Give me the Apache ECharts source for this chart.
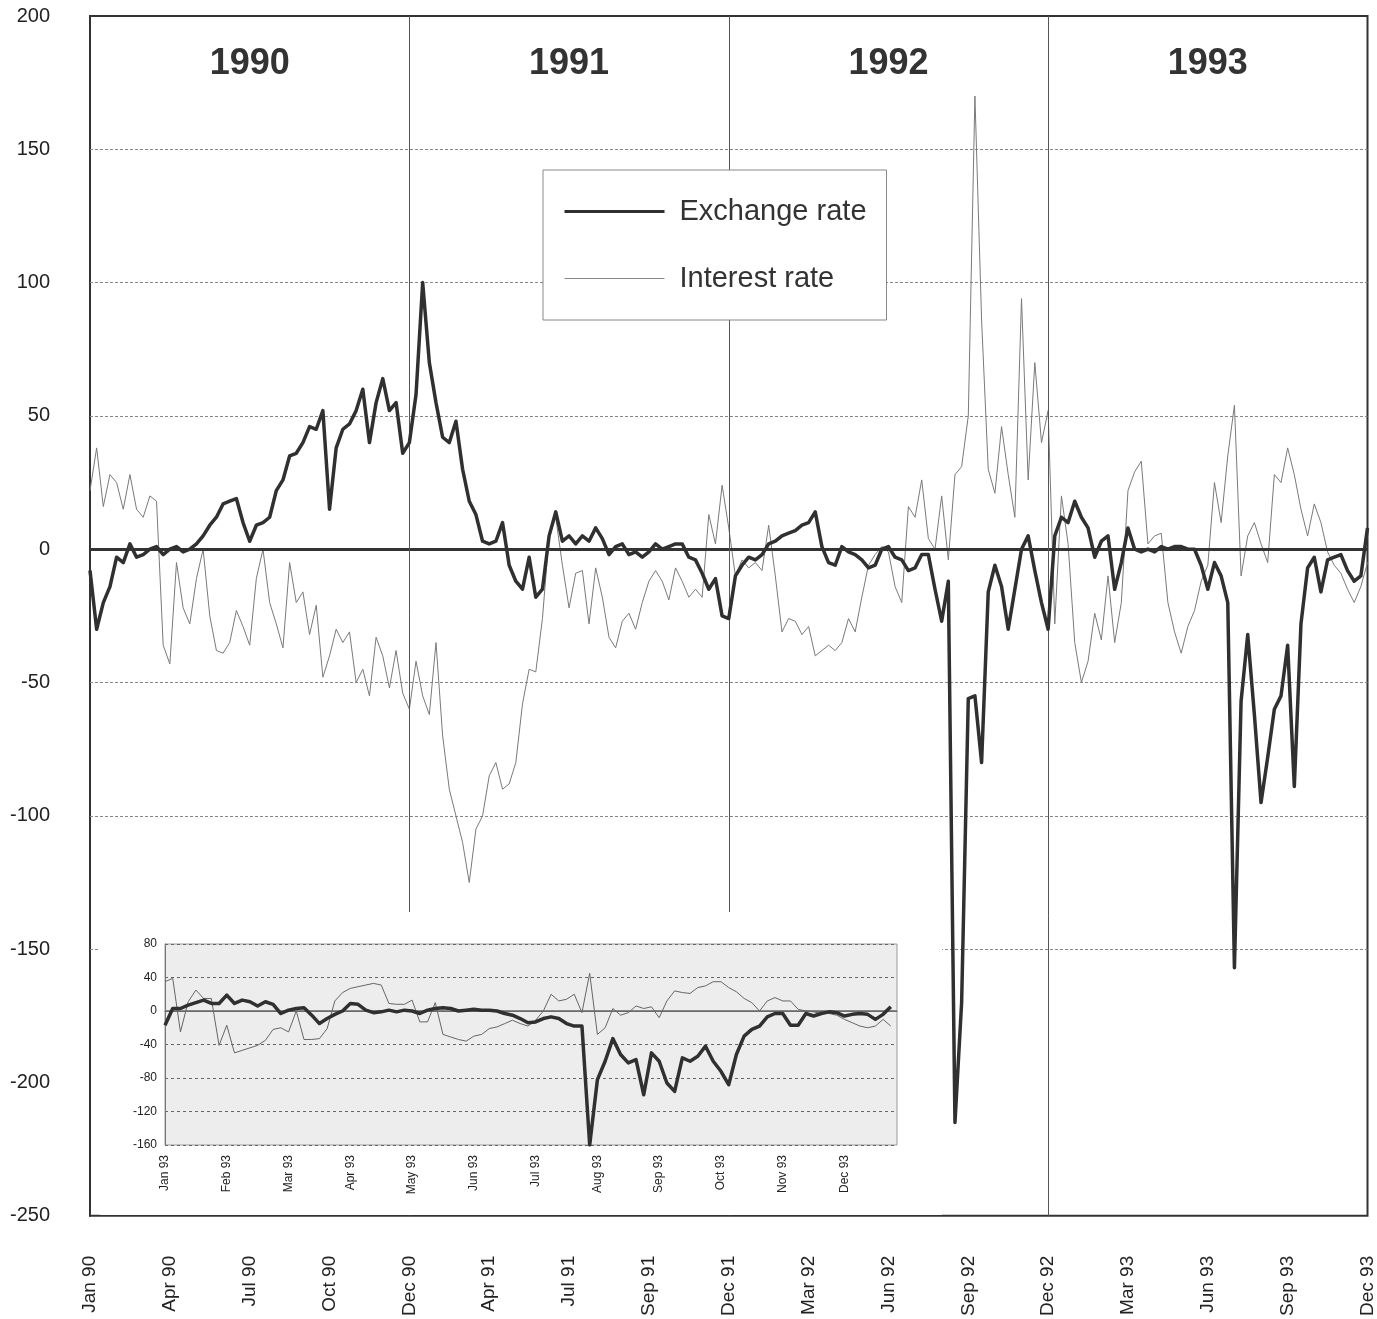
<!DOCTYPE html>
<html><head><meta charset="utf-8">
<script src="https://cdn.jsdelivr.net/npm/echarts@6/dist/echarts.min.js"></script>
<style>html,body{margin:0;padding:0;background:#fff}#c{width:1377px;height:1319px}</style>
</head><body><div id="c"></div>
<script>
// ---------- data ----------
const tickLabels = ['Jan 90','Apr 90','Jul 90','Oct 90','Dec 90','Apr 91','Jul 91','Sep 91','Dec 91','Mar 92','Jun 92','Sep 92','Dec 92','Mar 93','Jun 93','Sep 93','Dec 93'];
const years = ['1990','1991','1992','1993'];
const pointsPerTick = 12;
const exchangeRate = [
-8,-30,-20,-14,-3,-5,2,-3,-2,0,
1,-2,0,1,-1,0,2,5,9,12,
17,18,19,10,3,9,10,12,22,26,
35,36,40,46,45,52,15,38,45,47,
52,60,40,55,64,52,55,36,40,58,
100,70,55,42,40,48,30,18,13,3,
2,3,10,-6,-12,-15,-3,-18,-15,5,
14,3,5,2,5,3,8,4,-2,1,
2,-2,-1,-3,-1,2,0,1,2,2,
-3,-4,-9,-15,-11,-25,-26,-10,-6,-3,
-4,-2,2,3,5,6,7,9,10,14,
1,-5,-6,1,-1,-2,-4,-7,-6,0,
1,-3,-4,-8,-7,-2,-2,-15,-27,-12,
-215,-170,-56,-55,-80,-16,-6,-14,-30,-15,
0,5,-8,-20,-30,5,12,10,18,12,
8,-3,3,5,-15,-5,8,0,-1,0,
-1,1,0,1,1,0,0,-6,-15,-5,
-10,-20,-157,-57,-32,-62,-95,-78,-60,-55,
-36,-89,-28,-7,-3,-16,-4,-3,-2,-8,
-12,-10,8
];
const interestRate = [
22,38,16,28,25,15,28,15,12,20,
18,-36,-43,-5,-22,-28,-11,0,-25,-38,
-39,-35,-23,-29,-36,-11,0,-20,-28,-37,
-5,-20,-16,-32,-21,-48,-40,-30,-35,-31,
-50,-45,-55,-33,-40,-52,-38,-54,-60,-42,
-55,-62,-35,-70,-90,-100,-110,-125,-105,-100,
-85,-80,-90,-88,-80,-58,-45,-46,-26,5,
12,-6,-22,-9,-8,-28,-7,-18,-33,-37,
-27,-24,-30,-20,-12,-8,-12,-19,-7,-12,
-18,-15,-18,13,2,24,8,-10,-4,-7,
-5,-8,9,-10,-31,-26,-27,-32,-29,-40,
-38,-36,-38,-35,-26,-31,-18,-6,-2,1,
-1,-14,-20,16,12,26,4,0,20,-4,
28,31,50,170,86,30,21,46,28,12,
94,26,70,40,52,-28,20,2,-35,-50,
-42,-24,-34,-10,-35,-20,22,29,33,2,
5,6,-20,-31,-39,-29,-23,-12,-6,25,
10,35,54,-10,5,10,2,-5,28,25,
38,28,15,5,17,10,-1,-6,-9,-15,
-20,-14,-5
];
const gridValues = [150,100,50,-50,-100,-150];

const insetMonths = ['Jan 93','Feb 93','Mar 93','Apr 93','May 93','Jun 93','Jul 93','Aug 93','Sep 93','Oct 93','Nov 93','Dec 93'];
const pointsPerMonth = 8;
const insetExchange = [
-17,3,3,7,10,13,9,9,19,9,
13,11,6,11,8,-3,1,3,4,-5,
-15,-9,-4,0,9,8,1,-2,-1,1,
-1,1,0,-3,1,3,4,3,0,1,
2,1,1,0,-3,-5,-9,-14,-13,-9,
-7,-9,-15,-18,-18,-160,-82,-60,-33,-52,
-62,-58,-100,-50,-60,-86,-96,-56,-60,-54,
-42,-60,-72,-88,-52,-30,-22,-18,-7,-3,
-3,-17,-17,-3,-6,-3,-1,-2,-6,-4,
-3,-4,-10,-4,5
];
const insetInterest = [
35,39,-25,11,25,15,15,-41,-17,-50,
-47,-44,-41,-35,-22,-20,-25,0,-34,-34,
-33,-21,12,22,27,29,31,33,31,9,
8,8,13,-13,-13,10,-28,-31,-34,-36,
-30,-28,-21,-19,-15,-11,-15,-18,-11,0,
20,12,14,20,-2,45,-28,-20,3,-5,
-2,6,3,5,-8,12,24,22,21,28,
30,35,35,28,23,15,10,0,12,16,
12,12,2,0,-1,-3,-3,-5,-10,-14,
-18,-20,-18,-10,-18
];

// ---------- chart ----------
const FONT = '"Liberation Sans", Arial, Helvetica, sans-serif';
const toXY = (arr, step) => arr.map((v, i) => [i / step, v]);
const isInt = v => Math.abs(v - Math.round(v)) < 1e-6;
const separators = tickLabels.map((t, i) => (t.startsWith('Dec') && i > 0 && i < tickLabels.length - 1) ? i : -1).filter(i => i >= 0);
const bounds = [0].concat(separators, [tickLabels.length - 1]);

const chart = echarts.init(document.getElementById('c'), null, {renderer: 'canvas'});
const option = {
  animation: false,
  backgroundColor: '#fff',
  textStyle: {fontFamily: FONT},
  grid: [
    {left: 90, top: 16, width: 1280, height: 1202, show: true, borderColor: '#333', borderWidth: 2, backgroundColor: 'transparent'},
    {left: 165, top: 944, width: 732, height: 201, show: true, borderColor: '#999', borderWidth: 1, backgroundColor: '#ededed', z: 6}
  ],
  xAxis: [
    {gridIndex: 0, type: 'value', min: 0, max: tickLabels.length - 1, interval: 1,
     axisLine: {show: false}, axisTick: {show: false}, splitLine: {show: false},
     axisLabel: {rotate: 90, margin: 40, fontSize: 19, color: '#222', fontFamily: FONT,
       formatter: v => isInt(v) ? (tickLabels[Math.round(v)] || '') : ''}},
    {gridIndex: 1, type: 'value', min: 0, max: 11.85, interval: 1, z: 7,
     axisLine: {show: true, lineStyle: {color: '#777', width: 1}}, axisTick: {show: false}, splitLine: {show: false},
     axisLabel: {rotate: 90, margin: 10, fontSize: 12, color: '#222', fontFamily: FONT,
       formatter: v => isInt(v) ? (insetMonths[Math.round(v)] || '') : ''}}
  ],
  yAxis: [
    {gridIndex: 0, type: 'value', min: -250, max: 200, interval: 50,
     axisLine: {show: true, lineStyle: {color: '#333', width: 2}}, axisTick: {show: false}, splitLine: {show: false},
     axisLabel: {margin: 40, fontSize: 20, color: '#222', fontFamily: FONT}},
    {gridIndex: 1, type: 'value', min: -160, max: 80, interval: 40, z: 7,
     axisLine: {show: true, lineStyle: {color: '#777', width: 1}}, axisTick: {show: false},
     splitLine: {show: true, lineStyle: {type: [3, 3], color: '#666', width: 1}},
     axisLabel: {margin: 8, fontSize: 12, color: '#222', fontFamily: FONT}}
  ],
  legend: {
    data: [
      {name: 'Exchange rate', lineStyle: {width: 3, color: '#303030'}},
      {name: 'Interest rate', lineStyle: {width: 1, color: '#888'}}
    ],
    orient: 'vertical', left: 543, top: 170,
    padding: [27, 20, 27, 20], itemGap: 38, itemWidth: 100, itemHeight: 28,
    itemStyle: {opacity: 0},
    backgroundColor: '#fff', borderColor: '#888', borderWidth: 1, z: 10,
    textStyle: {fontSize: 29, color: '#333', fontFamily: FONT, padding: [0, 0, 0, 10]}
  },
  graphic: [
    {type: 'rect', z: 5, silent: true, shape: {x: 100, y: 912, width: 842, height: 303}, style: {fill: '#fff'}}
  ],
  series: [
    {
      name: 'Interest rate', type: 'line', xAxisIndex: 0, yAxisIndex: 0, z: 2,
      data: toXY(interestRate, pointsPerTick), showSymbol: false, symbol: 'none',
      lineStyle: {width: 1, color: '#7a7a7a'}, itemStyle: {color: '#7a7a7a'},
      markLine: {z: 2, silent: true, symbol: 'none', label: {show: false},
        lineStyle: {type: [3, 2], color: '#888', width: 1},
        data: gridValues.map(v => ({yAxis: v}))}
    },
    {
      name: 'Exchange rate', type: 'line', xAxisIndex: 0, yAxisIndex: 0, z: 3,
      data: toXY(exchangeRate, pointsPerTick), showSymbol: false, symbol: 'none',
      lineStyle: {width: 3.5, color: '#303030', join: 'round'}, itemStyle: {color: '#303030'},
      markLine: {z: 3, silent: true, symbol: 'none', label: {show: false},
        data: [{yAxis: 0, lineStyle: {type: 'solid', color: '#333', width: 3}}]
          .concat(separators.map(i => ({xAxis: i, lineStyle: {type: 'solid', color: '#555', width: 1}})))},
      markPoint: {z: 4, silent: true, symbol: 'rect', symbolSize: 1, itemStyle: {color: 'rgba(0,0,0,0)'},
        label: {show: true, position: 'inside', formatter: '{b}', fontSize: 36, fontWeight: 'bold', color: '#333', fontFamily: FONT},
        data: years.map((y, k) => ({name: y, coord: [(bounds[k] + bounds[k + 1]) / 2, 182]}))}
    },
    {
      name: 'Interest rate', type: 'line', xAxisIndex: 1, yAxisIndex: 1, z: 8,
      data: toXY(insetInterest, pointsPerMonth), showSymbol: false, symbol: 'none',
      lineStyle: {width: 1, color: '#666'}
    },
    {
      name: 'Exchange rate', type: 'line', xAxisIndex: 1, yAxisIndex: 1, z: 9,
      data: toXY(insetExchange, pointsPerMonth), showSymbol: false, symbol: 'none',
      lineStyle: {width: 3.5, color: '#303030', join: 'round'},
      markLine: {z: 8, silent: true, symbol: 'none', label: {show: false},
        data: [{yAxis: 0, lineStyle: {type: 'solid', color: '#666', width: 1.5}}]}
    }
  ]
};
chart.setOption(option);
</script>
</body></html>
